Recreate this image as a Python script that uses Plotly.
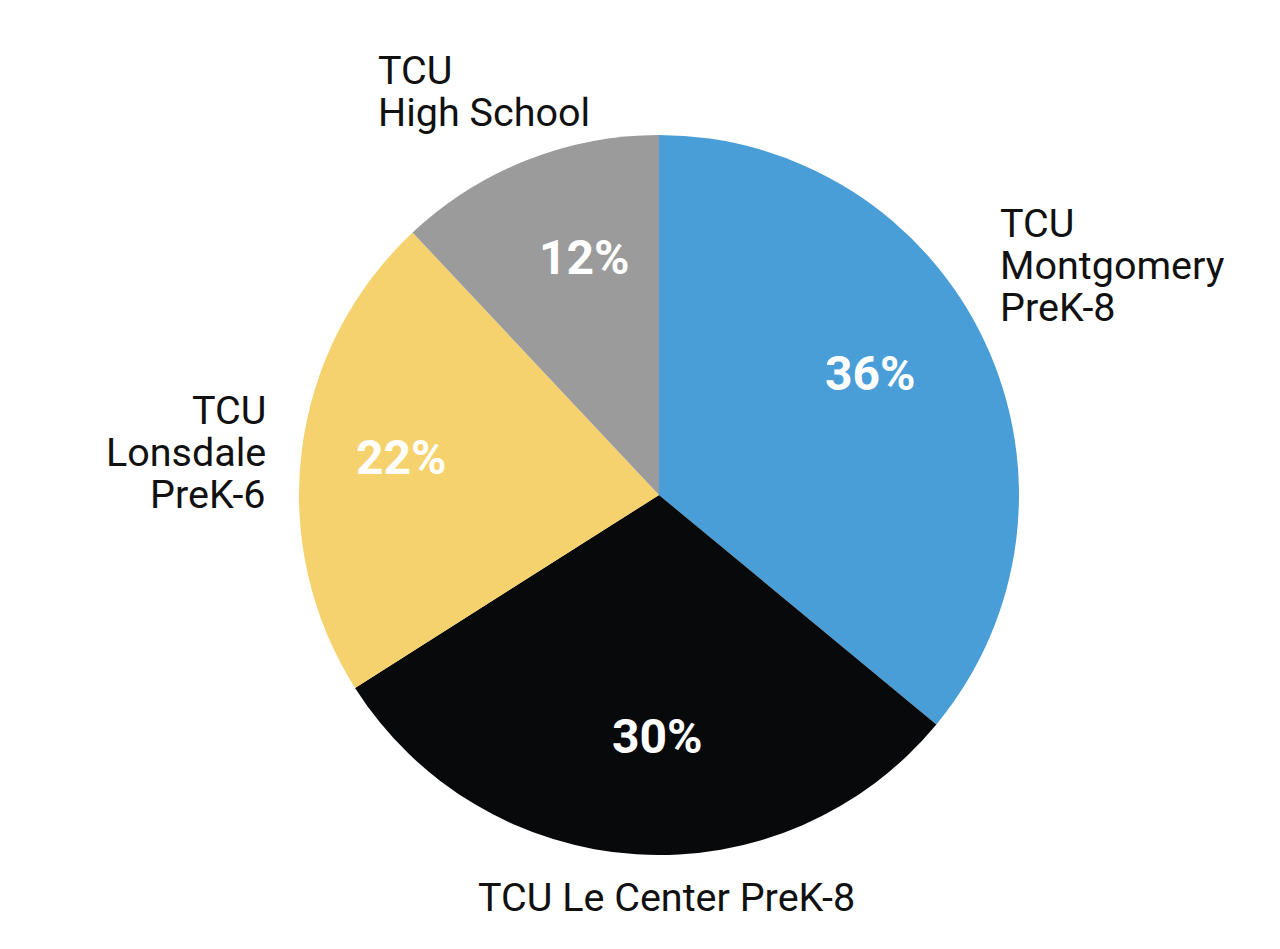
import plotly.graph_objects as go

labels = ["TCU Montgomery PreK-8", "TCU Le Center PreK-8", "TCU Lonsdale PreK-6", "TCU High School"]
values = [36, 30, 22, 12]
colors = ["#4A9ED7", "#08090B", "#F5D26D", "#9A9B9A"]
pct_text = ["36%", "30%", "22%", "12%"]
label_lines = [["TCU", "Montgomery", "PreK-8"], ["TCU Le Center PreK-8"], ["TCU", "Lonsdale", "PreK-6"], ["TCU", "High School"]]

W, H, OFF = 1280, 949, 8  # page body margin offset


def px(x):
    return (x - OFF) / W


def py(y):
    return 1 - (y - OFF) / H


fig = go.Figure(go.Pie(
    labels=labels,
    values=values,
    textinfo="none",
    marker=dict(colors=colors, line=dict(width=0)),
    sort=False,
    direction="clockwise",
    rotation=0,
    domain=dict(x=[px(299), px(1019)], y=[py(855), py(135)]),
    showlegend=False,
    hoverinfo="label+percent",
))

# layout: label anchors (pixel positions of first-line cap centre), alignment
label_layout = [
    dict(x=998, y=223.5, xanchor="left"),
    dict(x=666, y=897, xanchor="center"),
    dict(x=268, y=410.5, xanchor="right"),
    dict(x=376, y=71, xanchor="left"),
]
line_gap = 42
pct_pos = [(870, 374), (657, 736), (401, 457), (584, 257)]

lab_font = dict(family="Roboto", size=39.5, color="#111111")
pct_font = dict(family="Roboto", size=48, color="white", weight="bold")

annotations = []
for lines, lay in zip(label_lines, label_layout):
    for i, line in enumerate(lines):
        annotations.append(dict(
            text=line, x=px(lay["x"]), y=py(lay["y"] + i * line_gap),
            xanchor=lay["xanchor"], yanchor="middle", font=lab_font,
        ))
for t, (x, y) in zip(pct_text, pct_pos):
    annotations.append(dict(
        text=t, x=px(x), y=py(y), xanchor="center", yanchor="middle", font=pct_font,
    ))
for a in annotations:
    a.update(xref="paper", yref="paper", showarrow=False)

fig.update_layout(
    width=W, height=H,
    margin=dict(l=0, r=0, t=0, b=0),
    paper_bgcolor="white",
    plot_bgcolor="white",
    annotations=annotations,
)

fig.write_html("out.html")
